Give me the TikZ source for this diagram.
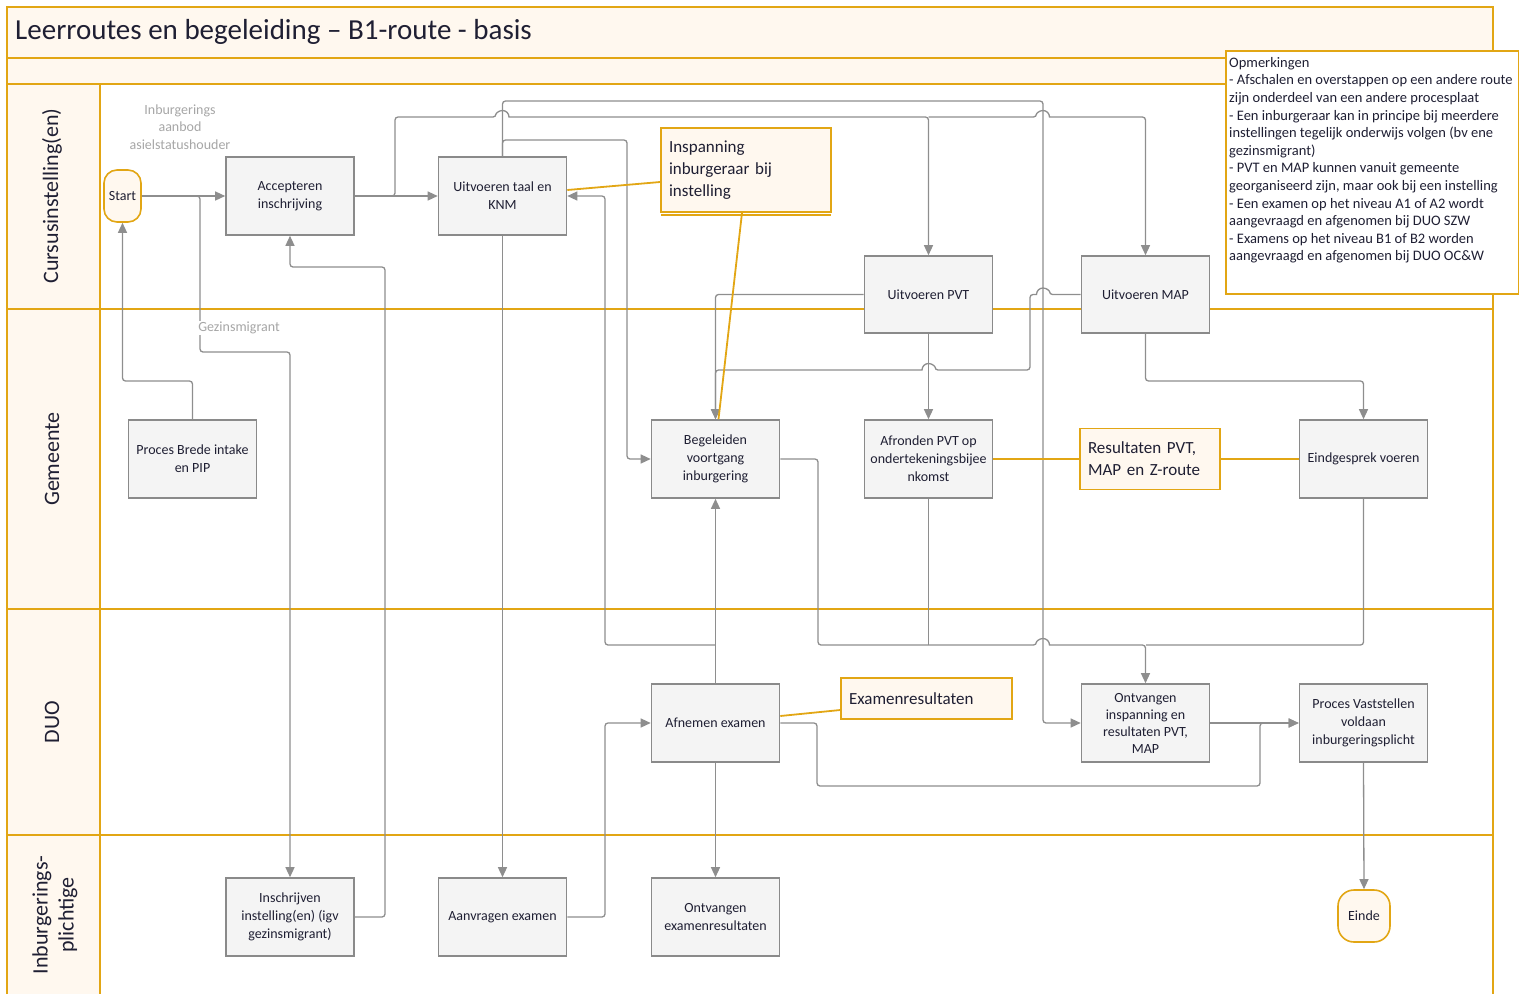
\documentclass[tikz,border=0pt]{standalone}
\usepackage{fontspec}
\setmainfont{Carlito}
\usetikzlibrary{arrows.meta,calc}
\definecolor{gold}{HTML}{E2A614}
\definecolor{cream}{HTML}{FFF8EF}
\definecolor{boxfill}{HTML}{F4F4F4}
\definecolor{boxline}{HTML}{8A8A8A}
\definecolor{connc}{HTML}{8E8E8E}
\definecolor{txt}{HTML}{1F1F33}
\definecolor{lbl}{HTML}{A6A6A6}
\begin{document}
\begin{tikzpicture}[x=1pt,y=-1pt,
  task/.style={draw=boxline, line width=1.6pt, fill=boxfill, minimum width=128pt, minimum height=78pt,
    inner sep=0pt, align=center, text=txt, font=\fontsize{14}{18}\selectfont},
  terminal/.style={draw=gold, line width=1.6pt, fill=cream, rounded corners=13pt, minimum width=#1,
    minimum height=52pt, inner sep=0pt, text=txt, font=\fontsize{14}{18}\selectfont},
  notebox/.style={draw=gold, line width=1.6pt, fill=cream, inner xsep=8pt, inner ysep=0pt, align=left,
    text=txt, font=\fontsize{17}{22}\selectfont},
  lane/.style={draw=gold, line width=2.4pt},
  lanelabel/.style={rotate=90, align=center, text=txt, font=\fontsize{22}{26}\selectfont},
  graylabel/.style={text=lbl, align=center, inner sep=1pt, font=\fontsize{14}{17.5}\selectfont},
  conn/.style={draw=connc, line width=1.3pt, rounded corners=3pt},
  arr/.style={conn, -{Triangle[length=10pt,width=9pt]}},
  assoc/.style={draw=gold, line width=1.8pt}
]
\useasboundingbox (0,0) rectangle (1519,994);
% frame and lanes
\fill[cream] (7,7) rectangle (1493,84);
\fill[cream] (7,84) rectangle (100,994);
\draw[lane] (7,994) -- (7,7) -- (1493,7) -- (1493,994);
\draw[lane] (7,58) -- (1493,58);
\draw[lane] (7,84) -- (1493,84);
\draw[lane] (100,84) -- (100,994);
\draw[lane] (7,309) -- (1493,309);
\draw[lane] (7,609) -- (1493,609);
\draw[lane] (7,835) -- (1493,835);
\node[anchor=west, inner sep=0pt, text=txt, font=\fontsize{29}{33}\selectfont] (title) at (15,32) {Leerroutes en begeleiding – B1-route - basis};
\node[lanelabel] (l1) at (52,196) {Cursusinstelling(en)};
\node[lanelabel] (l2) at (52,459) {Gemeente};
\node[lanelabel] (l3) at (52,722) {DUO};
\node[lanelabel] (l4) at (55,915) {Inburgerings-\\plichtige};

% nodes
\node[terminal=37pt] (start) at (122.5,196) {Start};
\node[task] (acc) at (290,196) {Accepteren\\inschrijving};
\node[task] (utk) at (502.5,196) {Uitvoeren taal en\\KNM};
\node[task, minimum height=77pt] (pvt) at (928.5,294.5) {Uitvoeren PVT};
\node[task, minimum height=77pt] (map) at (1145.5,294.5) {Uitvoeren MAP};
\node[task] (pip) at (192.5,459) {Proces Brede intake\\en PIP};
\node[task] (beg) at (715.5,459) {Begeleiden\\voortgang\\inburgering};
\node[task] (afr) at (928.5,459) {Afronden PVT op\\ondertekeningsbijee\\nkomst};
\node[task] (eind) at (1363.5,459) {Eindgesprek voeren};
\node[task] (afn) at (715.5,723) {Afnemen examen};
\node[task, font=\fontsize{14}{17}\selectfont] (ont) at (1145.5,723) {Ontvangen\\inspanning en\\resultaten PVT,\\MAP};
\node[task] (vst) at (1363.5,723) {Proces Vaststellen\\voldaan\\inburgeringsplicht};
\node[task] (ins) at (290,917) {Inschrijven\\instelling(en) (igv\\gezinsmigrant)};
\node[task] (aanv) at (502.5,917) {Aanvragen examen};
\node[task] (oex) at (715.5,917) {Ontvangen\\examenresultaten};
\node[terminal=52pt, rounded corners=16pt] (einde) at (1364,916) {Einde};

% notes
\draw[assoc] (661,215) -- (831,215);
\node[notebox, minimum width=170pt, minimum height=84pt, text width=154pt] (insp) at (746,170) {Inspanning\\inburgeraar bij\\instelling};
\node[notebox, minimum width=140pt, minimum height=61pt, text width=124pt] (resu) at (1150,459) {Resultaten PVT,\\MAP en Z-route};
\node[notebox, minimum width=171pt, minimum height=41pt, text width=155pt] (exr) at (926.5,698.5) {Examenresultaten};

% connectors
\draw[arr] (start.east) -- (acc.west);
\draw[arr] (start.east) -| (200,352) -| (ins.north);
\draw[arr] (pip.north) |- (122.5,381) -- (start.south);
\draw[arr] (acc.east) -- (utk.west);
\draw[arr] (acc.east) -| (395,117) -- (496,117) [sharp corners] arc[start angle=180,end angle=360,radius=6.5] [rounded corners=3pt] -- (928.5,117) -- (pvt.north);
\draw[arr] (928.5,117) -- (1036.5,117) [sharp corners] arc[start angle=180,end angle=360,radius=6.5] [rounded corners=3pt] -| (map.north);
\draw[arr] (utk.north) |- (1043,101) |- (ont.west);
\draw[arr] (utk.north) |- (627,140) |- (beg.west);
\draw[arr] (afn.north) -- (beg.south);
\coordinate (j1) at (715.5,645);
\draw[arr] (j1) -| (605,196) -- (utk.east);
\draw[arr] (utk.south) -- (aanv.north);
\draw[arr] (aanv.east) -| (605,723) -- (afn.west);
\draw[arr] (ins.east) -| (385,267) -| (acc.south);
\draw[arr] (afn.south) -- (oex.north);
\draw[arr] (afn.east) -| (817,786) -| (1260,723) -- (vst.west);
\draw[arr] (ont.east) -- (vst.west);
\draw[arr] (beg.east) -| (818,645) -- (1036.5,645) [sharp corners] arc[start angle=180,end angle=360,radius=6.5] [rounded corners=3pt] -| (ont.north);
\draw[conn] (afr.south) -- (928.5,645);
\draw[conn] (eind.south) |- (1146,645);
\draw[arr] (pvt.west) -| (beg.north);
\draw[arr] (map.west) -- (1049.5,294.5) [sharp corners] arc[start angle=0,end angle=-180,radius=6.5] [rounded corners=3pt] -| (1030,370) -- (935,370) [sharp corners] arc[start angle=0,end angle=-180,radius=6.5] [rounded corners=3pt] -| (beg.north);
\draw[arr] (pvt.south) -- (afr.north);
\draw[arr] (map.south) -- (1145.5,381) -| (eind.north);
\draw[arr] (vst.south) -- (einde.north);

% gray labels
\node[graylabel] (lab1) at (180,127) {Inburgerings\\aanbod\\asielstatushouder};
\node[graylabel, fill=white] (lab2) at (239,328) {Gezinsmigrant};

% associations
\draw[assoc] ($(utk.east)+(0,-6)$) -- ($(insp.west)+(0,12)$);
\draw[assoc] ($(insp.south)+(-4,0)$) -- ($(beg.north)+(3,0)$);
\draw[assoc] (afr.east) -- (resu.west);
\draw[assoc] (resu.east) -- (eind.west);
\draw[assoc] ($(afn.east)+(0,-7)$) -- ($(exr.west)+(0,11.5)$);

% remarks
\node[draw=gold, fill=white, line width=1.6pt, minimum width=293pt, minimum height=243pt, anchor=north west, inner sep=0pt] (opm) at (1225,50) {};
\node[anchor=north west, align=left, inner sep=0pt, text=txt, font=\fontsize{14.5}{17.6}\selectfont] (opmtext) at (1229,57) {Opmerkingen\\
- Afschalen en overstappen op een andere route\\
zijn onderdeel van een andere procesplaat\\
- Een inburgeraar kan in principe bij meerdere\\
instellingen tegelijk onderwijs volgen (bv ene\\
gezinsmigrant)\\
- PVT en MAP kunnen vanuit gemeente\\
georganiseerd zijn, maar ook bij een instelling\\
- Een examen op het niveau A1 of A2 wordt\\
aangevraagd en afgenomen bij DUO SZW\\
- Examens op het niveau B1 of B2 worden\\
aangevraagd en afgenomen bij DUO OC\&W};
\end{tikzpicture}
\end{document}
